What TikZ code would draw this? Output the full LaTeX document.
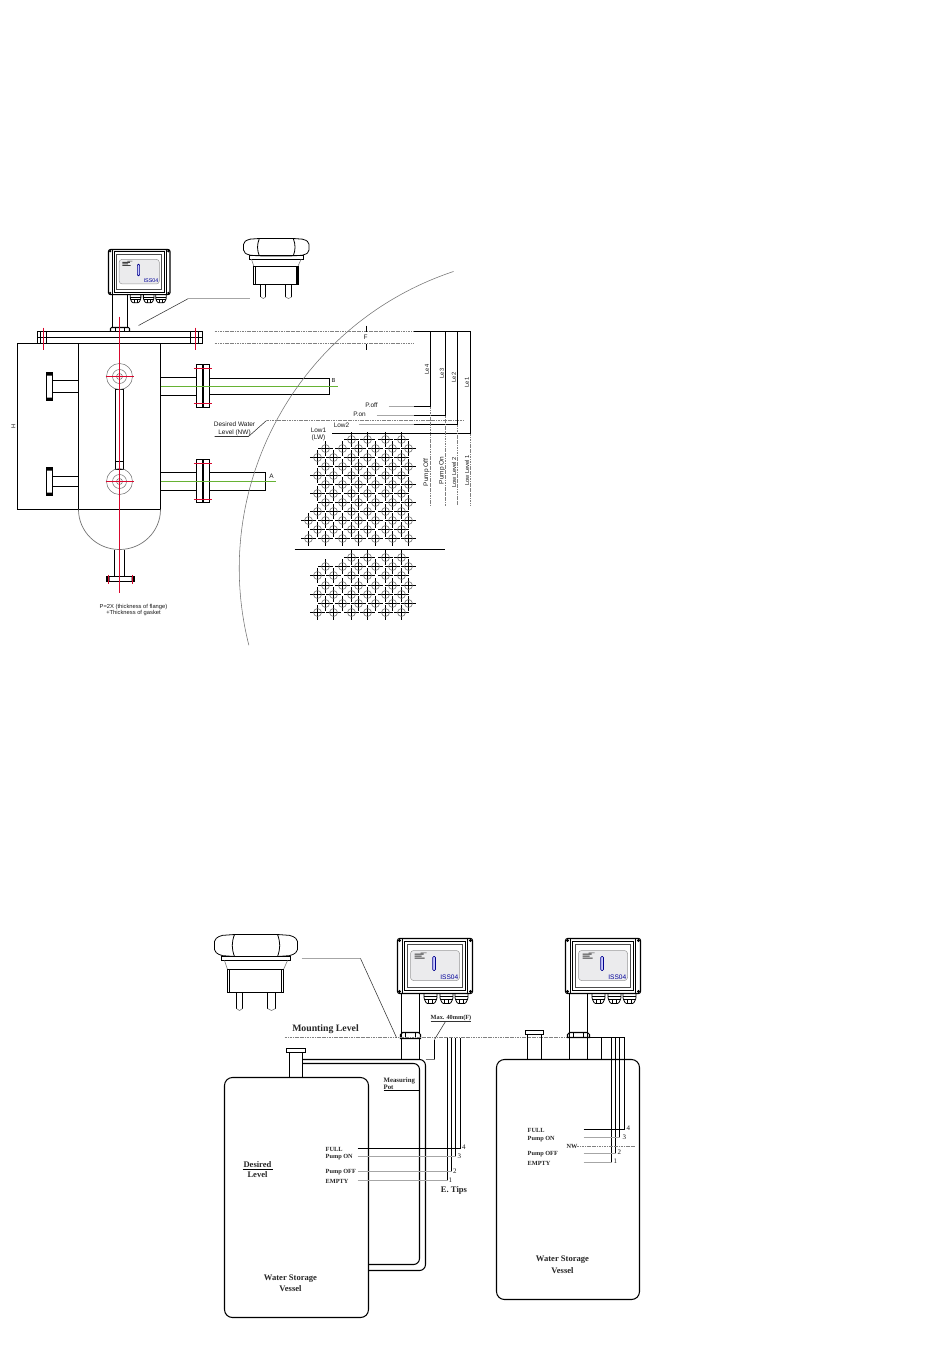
\documentclass[tikz,border=0pt]{standalone}
\usepackage{fontspec}
\setmainfont{Liberation Serif}
\newfontfamily\sanslab{Liberation Sans}
\definecolor{redc}{rgb}{0.85,0.03,0.18}
\definecolor{grnc}{rgb}{0.40,0.70,0.20}
\newcommand{\gridmark}[2]{\draw[black,line width=0.95pt] (#1-7.5,#2) -- (#1+7.5,#2) (#1,#2-7.5) -- (#1,#2+7.5); \draw[black!65,line width=0.45pt] (#1,#2) circle[radius=4];}
\tikzset{
  blk/.style={draw=black,line width=1.05pt},
  blkthin/.style={draw=black,line width=0.8pt},
  ldr/.style={draw=black!80,line width=0.55pt},
  gry/.style={draw=black!55,line width=0.55pt},
  gryl/.style={draw=black!35,line width=0.9pt},
  dotl/.style={draw=black!50,line width=0.75pt,dash pattern=on 1.2pt off 0.5pt},
  redl/.style={draw=redc,line width=1.15pt},
  grnl/.style={draw=grnc,line width=1pt},
  sl/.style={font=\sanslab\fontsize{5.8}{7}\selectfont,inner sep=0pt,align=center,text=black!90},
  slb/.style={font=\sanslab\fontsize{6.5}{7.8}\selectfont,inner sep=0pt,align=center,text=black!90},
  sr/.style={font=\fontsize{7}{8}\selectfont,inner sep=0pt,align=left,anchor=west,text=black!90},
  srs/.style={font=\bfseries\fontsize{6.3}{7}\selectfont,inner sep=0pt,align=left,anchor=west,text=black!85},
  srb/.style={font=\bfseries\fontsize{8.6}{9.5}\selectfont,inner sep=0pt,align=center,text=black!85},
  pics/transmitter/.style={code={
    \draw[blk,rounded corners=2pt] (0,0) rectangle (75,55);
    \draw[blkthin] (5,0) -- (5,55) (70,0) -- (70,55);
    \draw[line width=1pt] (7,3) rectangle (68,52);
    \draw[blkthin,draw=black!70] (10,6) rectangle (65,49);
    \draw[draw=black!40,fill=blue!14!black!8,line width=0.5pt,rounded corners=3pt] (13,12) rectangle (62,42);
    \fill[black!75] (17,15) rectangle (26,16.2) (17,17) rectangle (24,18.2) (17,19) rectangle (27,20) (23,14) rectangle (29,14.6);
    \draw[draw=blue!55!black,fill=white!80!blue,line width=0.6pt,rounded corners=1pt] (35.2,18) rectangle (38,32);
    \node[font=\sanslab\fontsize{6.6}{7}\selectfont,text=blue!60!black,inner sep=0pt,anchor=south east,transform shape] at (61,41) {ISS04};
    \foreach \cx/\cy in {2/2,73/2,2/53,73/53}{\fill[black] (\cx,\cy) circle[radius=1.6];}
    \foreach \cx in {33,49,64}{
      \draw[blkthin,rounded corners=1pt] (\cx-6.5,55) -- (\cx-6.5,60) -- (\cx-4,65) -- (\cx+4,65) -- (\cx+6.5,60) -- (\cx+6.5,55);
      \draw[blkthin] (\cx-6.5,58) -- (\cx+6.5,58) (\cx-6,60.5) -- (\cx+6,60.5) (\cx-2,60.5) -- (\cx-2,65) (\cx+2,60.5) -- (\cx+2,65);
    }
  }},
  pics/plug/.style={code={
    \draw[blkthin,rounded corners=2pt] (0,5) -- (6,1) -- (20,0) -- (63,0) -- (77,1) -- (83,5) -- (83,17) -- (77,21) -- (63,22) -- (20,22) -- (6,21) -- (0,17) -- cycle;
    \draw[blkthin] (20,0) .. controls (17,8) and (17,14) .. (20,22) (63,0) .. controls (66,8) and (66,14) .. (63,22);
    \draw[blk] (7,22) rectangle (76,26);
    \draw[gry] (10,26) -- (13,35) (73,26) -- (69,35);
    \draw[blk] (13,35) rectangle (69,58);
    \draw[blkthin] (15,35) -- (15,58) (67,35) -- (67,58);
    \draw[blkthin] (22,58) -- (22,74) (28,58) -- (28,74) (53,58) -- (53,74) (61,58) -- (61,74);
    \draw[gry] (22,74) -- (25,76) -- (28,74) (53,74) -- (57,76) -- (61,74);
  }},
}
\begin{document}
\begin{tikzpicture}[x=1bp,y=-1bp]
\useasboundingbox (0,0) rectangle (950,1370);
\fill[white] (0,0) rectangle (950,1370);
\begin{scope}[shift={(0.5,0.5)}]

% ---------- TOP DRAWING ----------
\pic[shift={(108,249)},scale=0.82] {transmitter};
\pic[shift={(243,238)},scale=0.79] {plug};
% neck & nut
\draw[blk] (112,293) -- (112,326) (127,293) -- (127,326);
\draw[blk,rounded corners=1pt] (110,331) -- (110,327) -- (129,327) -- (129,331);
\draw[blkthin] (115,327) -- (115,331) (124,327) -- (124,331);
% flange plate
\draw[blk] (37,331) rectangle (202,343);
\draw[blk] (46,337) -- (190,337);
\draw[blkthin] (40,331) -- (40,343) (46,331) -- (46,343) (190,331) -- (190,343) (198,331) -- (198,343);
\draw[blk] (37,337) -- (51,337) (187,337) -- (202,337);
% leader to plug
\draw[ldr] (138,325) -- (188,298);
\draw[gryl] (188,298) -- (249,298);
% body
\draw[blkthin] (37,343) -- (17,343) -- (17,509);
\draw[blk] (17,509) -- (160,509) -- (160,343);
\draw[blk] (78,343) -- (78,509);
\draw[gry,line width=0.7pt] (78,509) arc[start angle=180,end angle=0,x radius=41,y radius=40];
% bottom nozzle
\draw[blk] (114,549) -- (114,576) (124,549) -- (124,576);
\draw[blk] (106,576) rectangle (134,581);
\fill[black] (106,576) rectangle (109,581) (131,576) rectangle (134,581);
% sight glass
\draw[blk] (115,389) rectangle (123,461);
\draw[blk] (115,461) rectangle (123,469);
\foreach \cy in {376,481}{
  \draw[gry] (119,\cy) circle[radius=13] (119,\cy) circle[radius=7] (119,\cy) circle[radius=3];
}
% left nozzles
\draw[blk] (52,380) -- (78,380) (52,392) -- (78,392);
\draw[blk] (46,372) rectangle (52,400);
\fill[black] (46,372) rectangle (52,375) (46,397) rectangle (52,400);
\draw[blk] (52,476) -- (78,476) (52,486) -- (78,486);
\draw[blk] (46,467) rectangle (52,495);
\fill[black] (46,467) rectangle (52,470) (46,492) rectangle (52,495);
% right nozzles
\draw[blk] (160,377) -- (196,377) (160,395) -- (196,395);
\draw[blk] (209,378) -- (329,378) -- (329,394) -- (209,394);
\draw[blk] (196,364) rectangle (202,407) (203,364) rectangle (209,407);
\draw[blk] (160,472) -- (196,472) (160,490) -- (196,490);
\draw[blk] (209,472) -- (265,472) -- (265,490) -- (209,490);
\draw[blk] (196,459) rectangle (202,502) (203,459) rectangle (209,502);
% green and red centre lines
\draw[grnl] (160,386) -- (337,386);
\draw[grnl] (160,481) -- (275,481);
\draw[redl] (193,368) -- (211,368);
\draw[redl] (193,403) -- (211,403);
\draw[redl] (193,463) -- (211,463);
\draw[redl] (193,499) -- (211,499);
\draw[redl] (119,316) -- (119,592);
\draw[redl] (43,327) -- (43,349);
\draw[redl] (195,327) -- (195,349);
\draw[redl] (105,376) -- (133,376);
\draw[redl] (105,481) -- (133,481);
\draw[redl] (108,574) -- (108,583);
\draw[redl] (132,574) -- (132,583);
\fill[redc] (119,376) circle[radius=1.4];
\fill[redc] (119,481) circle[radius=1.4];
% big arc
\draw[gry] (453,271) arc[start angle=251.6,end angle=165.8,radius=313];
% dimension lines
\draw[dotl] (214,331) -- (413,331) (214,343) -- (413,343);
\draw[blkthin] (366,325) -- (366,331) (366,343) -- (366,349);
\draw[blk] (413,331) -- (470,331);
\draw[blkthin] (430,331) -- (430,406) -- (413,406);
\draw[blkthin] (445,331) -- (445,415) -- (413,415);
\draw[blkthin] (457,331) -- (457,424) -- (413,424);
\draw[blkthin] (470,331) -- (470,433) -- (331,433);
\draw[gryl] (388,406) -- (413,406) (376,415) -- (413,415) (358,424) -- (413,424);
\draw[dotl] (430,406) -- (430,505) (445,415) -- (445,505) (457,424) -- (457,505) (470,433) -- (470,505);
\draw[dotl] (266,420) -- (463,420);
\draw[ldr] (266,420) -- (248,436) -- (214,436);
% grids
\foreach \xx in {351,367,385,401}{\gridmark{\xx}{439}\gridmark{\xx}{557}}
\foreach \yy in {448,466,484,502,520,538,566,585,603}{
  \foreach \xx in {325,342,358,375,392,408}{\gridmark{\xx}{\yy}}}
\foreach \yy in {457,475,493,511,529,575,594,612}{
  \foreach \xx in {317,333,351,367,385,401}{\gridmark{\xx}{\yy}}}
\gridmark{308}{520}\gridmark{308}{538}
\draw[blk] (294,549) -- (444,549);
% top labels
\node[sl] (h) at (13,426) {\rotatebox{90}{H}};
\node[sl] (pb) at (333,380) {B};
\node[slb] (pa) at (271,476) {A};
\node[slb] (pf) at (365,337) {F};
\node[sl] (le4) at (426.5,369) {\rotatebox{90}{Le4}};
\node[sl] (le3) at (441.5,373) {\rotatebox{90}{Le3}};
\node[sl] (le2) at (453.5,377) {\rotatebox{90}{Le2}};
\node[sl] (le1) at (466.5,382) {\rotatebox{90}{Le1}};
\node[slb] (poff) at (371,405) {P.off};
\node[slb] (pon) at (359,414) {P.on};
\node[slb] (low2) at (341,425) {Low2};
\node[slb] (low1) at (318,434) {Low1\\(LW)};
\node[slb] (dw) at (234,428) {Desired Water\\Level (NW)};
\node[slb] (ro1) at (426,472) {\rotatebox{90}{Pump Off}};
\node[slb] (ro2) at (441.5,470) {\rotatebox{90}{Pump On}};
\node[sl] (ro3) at (453.5,472) {\rotatebox{90}{Low Level 2}};
\node[sl] (ro4) at (466.5,470) {\rotatebox{90}{Low Level 1}};
\node[sl] (note) at (133,609.5) {P=2X (thickness of flange)\\+Thickness of gasket};

% ---------- BOTTOM LEFT ----------
\pic[shift={(397,938)}] {transmitter};
\pic[shift={(214,934)}] {plug};
\draw[blk,rounded corners=8pt] (224,1077) rectangle (368,1317);
\draw[blk] (289,1077) -- (289,1052) (302,1077) -- (302,1052);
\draw[blk] (286,1048) rectangle (305,1052);
\draw[blk] (401,993) -- (401,1059) (419,993) -- (419,1033);
\draw[blk] (400,1038) -- (400,1034) -- (402,1032) -- (418,1032) -- (420,1034) -- (420,1038) -- cycle;
\draw[blkthin] (405,1032) -- (405,1038) (415,1032) -- (415,1038);
\draw[blk] (419,1038) -- (419,1059);
\draw[blk,rounded corners=6pt] (302,1059) -- (425,1059) -- (425,1270) -- (368,1270);
\draw[blk,rounded corners=6pt] (302,1063) -- (419,1063) -- (419,1264) -- (368,1264);
\draw[blk] (383,1090) -- (419,1090);
% mounting level etc.
\draw[dotl] (284,1037) -- (568,1037);
\draw[gryl] (301,958) -- (360,958);
\draw[ldr] (360,958) -- (396,1037);
\draw[ldr] (430,1021) -- (470,1021);
\draw[ldr] (445,1021) -- (434,1039);
\draw[blk] (434,1039) -- (434,1059);
\draw[gry] (425,1059) -- (434,1059);
\draw[blkthin] (447,1037) -- (447,1180) (451,1037) -- (451,1171) (455,1037) -- (455,1156) (460,1037) -- (460,1148);
\draw[blkthin] (357,1148) -- (460,1148);
\draw[gryl] (357,1156) -- (455,1156) (357,1171) -- (451,1171) (357,1180) -- (447,1180);
\draw[blkthin] (242,1169) -- (272,1169);
\node[srb] (ml) at (325,1029) {\fontsize{9.8}{10}\selectfont Mounting Level};
\node[srs] (mx) at (430,1017) {Max. 40mm(F)};
\node[srs,font=\bfseries\fontsize{6.8}{7.4}\selectfont] (mp) at (383,1083) {Measuring\\Pot};
\node[srs] (l1) at (325,1149) {FULL};
\node[srs] (l2) at (325,1157) {Pump ON};
\node[srs] (l3) at (325,1172) {Pump OFF};
\node[srs] (l4) at (325,1181) {EMPTY};
\node[sr] (n4) at (461.5,1146.5) {4};
\node[sr] (n3) at (457,1155.5) {3};
\node[sr] (n2) at (452.5,1170.5) {2};
\node[sr] (n1) at (448,1179.5) {1};
\node[srb] (et) at (453.5,1190) {E. Tips};
\node[srb] (d1) at (257,1164) {Desired};
\node[srb] (d2) at (257,1174) {Level};
\node[srb] (w1) at (290,1278) {Water Storage};
\node[srb] (w2) at (290,1288) {Vessel};

% ---------- BOTTOM RIGHT ----------
\pic[shift={(565,938)}] {transmitter};
\draw[blk,rounded corners=8pt] (496,1059) rectangle (639,1299);
\draw[blk] (527,1034) -- (527,1059) (541,1034) -- (541,1059);
\draw[blk] (525,1030) rectangle (543,1034);
\draw[blk] (569,993) -- (569,1059) (587,993) -- (587,1059);
\draw[blk] (567,1037) -- (567,1034) -- (569,1032) -- (587,1032) -- (589,1034) -- (589,1037) -- cycle;
\draw[blkthin] (573,1032) -- (573,1037) (583,1032) -- (583,1037);
\draw[blk] (587,1037) -- (624,1037);
\draw[blk] (601,1037) -- (601,1059);
\draw[blkthin] (611,1037) -- (611,1162) (615,1037) -- (615,1153) (619,1037) -- (619,1137) (624,1037) -- (624,1129);
\draw[blkthin] (583,1129) -- (624,1129);
\draw[gryl] (583,1137) -- (619,1137) (583,1153) -- (615,1153) (583,1162) -- (611,1162);
\draw[dotl] (576,1146) -- (635,1146);
\node[srs] (r1) at (527,1130) {FULL};
\node[srs] (r2) at (527,1139) {Pump ON};
\node[srs] (r3) at (527,1154) {Pump OFF};
\node[srs] (r4) at (527,1163) {EMPTY};
\node[srs] (nw) at (566,1146) {NW};
\node[sr] (m4) at (626,1128) {4};
\node[sr] (m3) at (622,1137) {3};
\node[sr] (m2) at (617,1152) {2};
\node[sr] (m1) at (613,1161) {1};
\node[srb] (v1) at (562,1259) {Water Storage};
\node[srb] (v2) at (562,1270) {Vessel};
\end{scope}
\end{tikzpicture}
\end{document}
